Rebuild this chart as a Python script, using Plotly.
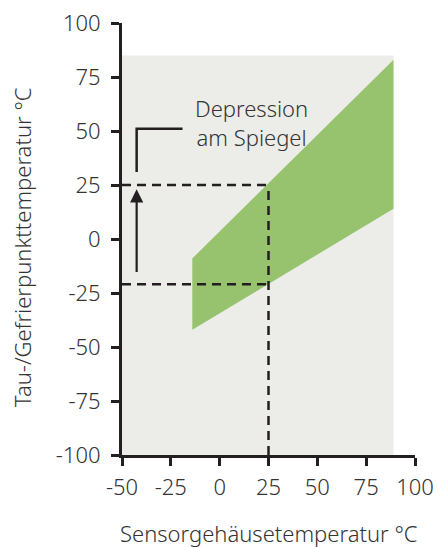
import plotly.graph_objects as go

# Data
x_ticks = [-50, -25, 0, 25, 50, 75, 100]
y_ticks = [-100, -75, -50, -25, 0, 25, 50, 75, 100]

band_x = [-14, 89]
band_upper = [-9, 83]
band_lower = [-42, 14]

range_x = [-50, 89]
range_top = 85

ref_sensor = 25
ref_dew_high = 25
ref_dew_low = -21

arrow_x = -42.5
arrow_from = -16
arrow_to = 23

bracket_x = [-42.5, -42.5, -19]
bracket_y = [31, 51, 51]

label_text = "Depression<br>am Spiegel"
x_title = "Sensorgehäusetemperatur °C"
y_title = "Tau-/Gefrierpunkttemperatur °C"

ink = "#231f20"
green = "#97c36e"
grey = "#ecede9"
txt = "#333333"
font_family = "'Noto Sans', sans-serif"
fw = 300

fig = go.Figure()

# grey operating region
fig.add_shape(type="rect", x0=range_x[0], x1=range_x[1], y0=-100, y1=range_top,
              fillcolor=grey, line=dict(width=0), layer="below")

# green band
poly_x = band_x + band_x[::-1]
poly_y = band_upper + band_lower[::-1]
fig.add_trace(go.Scatter(x=poly_x, y=poly_y, fill="toself", fillcolor=green,
                         mode="lines", line=dict(width=0, color=green),
                         hoverinfo="skip", showlegend=False))

dash = "9px,6px"
# dashed guide lines
fig.add_trace(go.Scatter(x=[-50, ref_sensor], y=[ref_dew_high, ref_dew_high], mode="lines",
                         line=dict(color=ink, width=2.5, dash=dash), showlegend=False))
fig.add_trace(go.Scatter(x=[-50, ref_sensor], y=[ref_dew_low, ref_dew_low], mode="lines",
                         line=dict(color=ink, width=2.5, dash=dash), showlegend=False))
fig.add_trace(go.Scatter(x=[ref_sensor, ref_sensor], y=[-100, ref_dew_high - 2], mode="lines",
                         line=dict(color=ink, width=2.5, dash=dash), showlegend=False))

# bracket
fig.add_trace(go.Scatter(x=bracket_x, y=bracket_y, mode="lines",
                         line=dict(color=ink, width=2.5), showlegend=False))

# arrow
fig.add_annotation(x=arrow_x, y=arrow_to, ax=arrow_x, ay=arrow_from,
                   xref="x", yref="y", axref="x", ayref="y",
                   showarrow=True, arrowhead=2, arrowsize=1.2, arrowwidth=2.2,
                   arrowcolor=ink, text="")

# label
fig.add_annotation(x=-13.5, y=54, xref="x", yref="y", text=label_text,
                   showarrow=False, xanchor="left", yanchor="middle", align="center",
                   font=dict(family=font_family, size=22, color=txt, weight=fw))

# axis titles
fig.add_annotation(x=0.5, y=0, xref="paper", yref="paper", yshift=-78, text=x_title,
                   showarrow=False, xanchor="center", yanchor="middle",
                   font=dict(family=font_family, size=22, color=txt, weight=fw))
fig.add_annotation(x=0, y=0.5, xref="paper", yref="paper", xshift=-100, yshift=-8,
                   text=y_title, showarrow=False, xanchor="center", yanchor="middle",
                   textangle=-90,
                   font=dict(family=font_family, size=22, color=txt, weight=fw))

fig.update_layout(
    width=438, height=547,
    margin=dict(l=122, r=23, t=23, b=92),
    plot_bgcolor="white", paper_bgcolor="white",
    font=dict(family=font_family, color=txt, weight=fw),
    showlegend=False,
)
fig.update_xaxes(range=[-50, 100], tickvals=x_ticks, ticktext=[str(v) for v in x_ticks],
                 showline=True, linewidth=3, linecolor=ink, ticks="outside", ticklen=8,
                 tickwidth=3, tickcolor=ink, showgrid=False, zeroline=False,
                 automargin=False, ticklabelstandoff=3,
                 tickfont=dict(size=22, color=txt, weight=fw))
fig.update_yaxes(range=[-100, 100], tickvals=y_ticks, ticktext=[str(v) for v in y_ticks],
                 showline=True, linewidth=3, linecolor=ink, ticks="outside", ticklen=8,
                 tickwidth=3, tickcolor=ink, showgrid=False, zeroline=False,
                 automargin=False, ticklabelstandoff=6,
                 tickfont=dict(size=22, color=txt, weight=fw))

fig.write_html("out.html", config={"displayModeBar": False},
               post_script="document.body.style.margin='0';")
